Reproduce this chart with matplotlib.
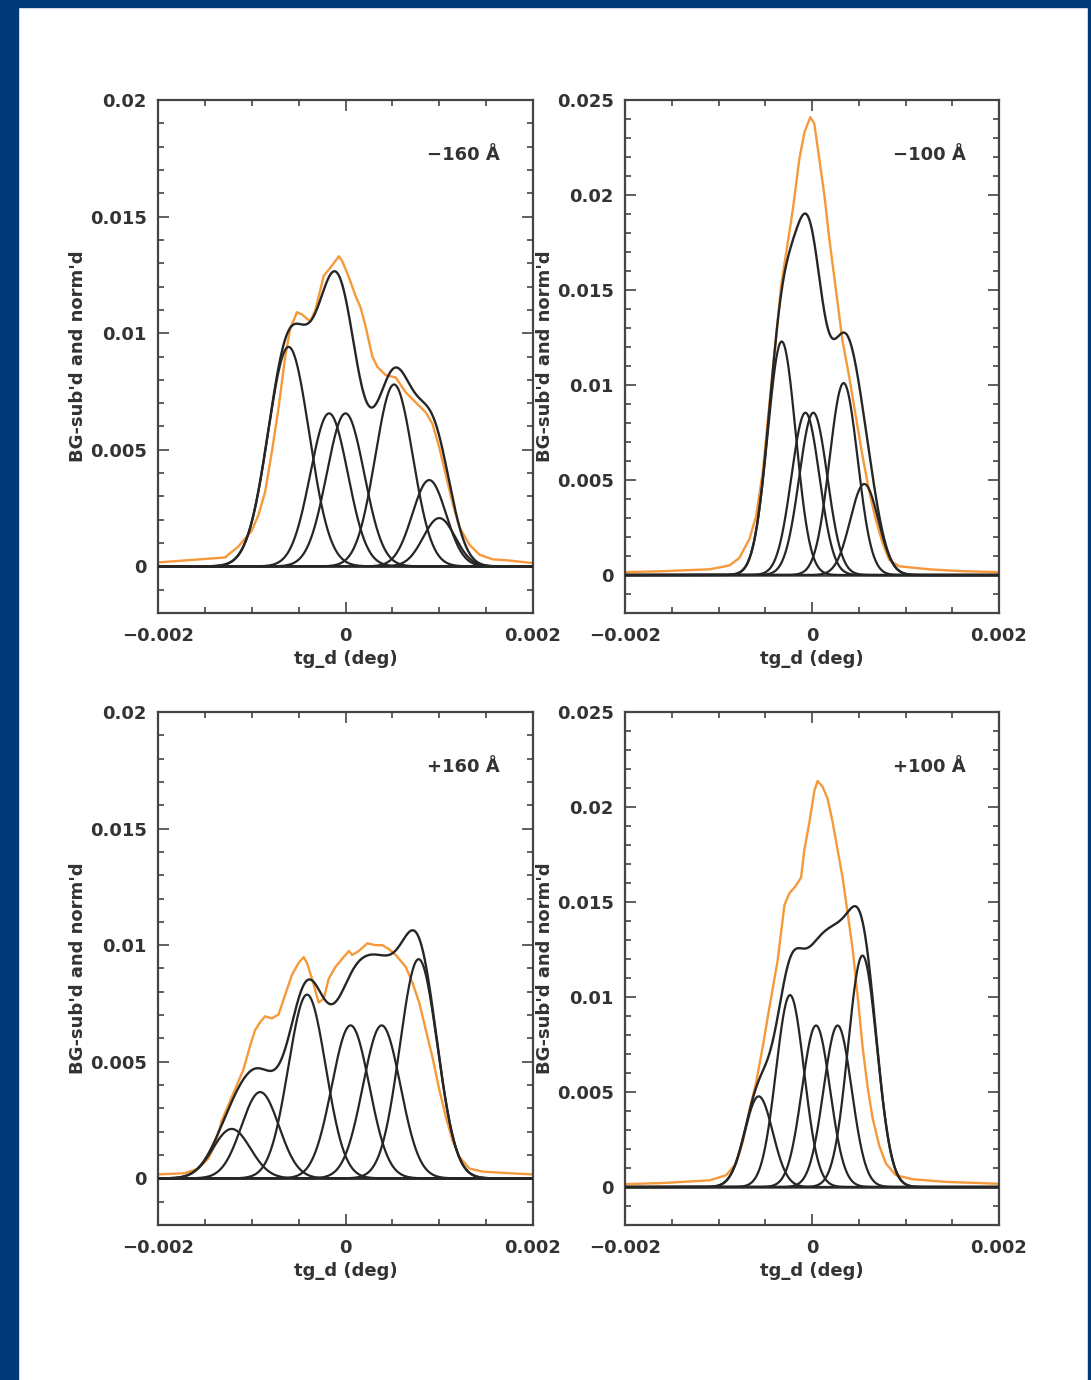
import numpy as np
import matplotlib
matplotlib.use("Agg")
import matplotlib.pyplot as plt
from matplotlib.ticker import FixedLocator, MultipleLocator
from matplotlib.patches import Rectangle

# ---- observed profiles (x in 1e-3 deg, y in 1e-3) -------------------------
obs_m160_x = [-2.0, -1.286, -1.143, -1.0, -0.929, -0.857, -0.786, -0.714, -0.643, -0.589,
              -0.518, -0.464, -0.375, -0.321, -0.232, -0.143, -0.071, -0.036, 0.036, 0.107,
              0.161, 0.214, 0.286, 0.339, 0.429, 0.536, 0.643, 0.75, 0.857, 0.929,
              1.0, 1.071, 1.143, 1.214, 1.321, 1.429, 1.571, 1.75, 2.0]
obs_m160_y = [0.17, 0.38, 0.85, 1.53, 2.2, 3.2, 4.9, 6.8, 9.0, 10.2,
              10.9, 10.8, 10.5, 11.0, 12.46, 12.9, 13.3, 13.1, 12.4, 11.6,
              11.1, 10.3, 9.0, 8.56, 8.2, 8.1, 7.46, 7.03, 6.6, 6.1,
              5.1, 3.9, 2.7, 1.7, 0.93, 0.5, 0.3, 0.25, 0.14]

obs_m100_x = [-2.0, -1.594, -1.096, -0.883, -0.776, -0.669, -0.598, -0.527, -0.456, -0.384,
              -0.331, -0.278, -0.206, -0.135, -0.081, -0.018, 0.025, 0.078, 0.132, 0.185,
              0.256, 0.327, 0.399, 0.470, 0.541, 0.612, 0.683, 0.754, 0.826, 0.932,
              1.253, 1.609, 2.0]
obs_m100_y = [0.15, 0.2, 0.3, 0.5, 0.9, 1.9, 3.1, 5.4, 9.0, 12.5,
              15.2, 16.9, 19.2, 21.9, 23.3, 24.1, 23.75, 21.9, 20.0, 17.7,
              15.0, 12.3, 10.4, 8.3, 6.25, 4.4, 2.9, 1.7, 0.8, 0.46,
              0.3, 0.2, 0.15]

obs_p160_x = [-2.0, -1.714, -1.571, -1.464, -1.393, -1.321, -1.25, -1.179, -1.089, -1.018,
              -0.964, -0.911, -0.857, -0.786, -0.714, -0.643, -0.571, -0.5, -0.446, -0.411,
              -0.357, -0.286, -0.232, -0.179, -0.107, -0.036, 0.036, 0.071, 0.143, 0.232,
              0.321, 0.393, 0.464, 0.536, 0.643, 0.714, 0.786, 0.857, 0.929, 1.0,
              1.071, 1.143, 1.214, 1.321, 1.464, 1.75, 2.0]
obs_p160_y = [0.17, 0.22, 0.42, 0.85, 1.44, 2.46, 3.14, 3.81, 4.66, 5.68,
              6.36, 6.69, 6.95, 6.86, 7.03, 7.88, 8.73, 9.24, 9.49, 9.24,
              8.56, 7.54, 7.71, 8.56, 9.07, 9.41, 9.75, 9.58, 9.75, 10.08,
              10.0, 10.0, 9.83, 9.58, 9.07, 8.39, 7.54, 6.36, 5.17, 3.81,
              2.63, 1.61, 0.93, 0.42, 0.29, 0.22, 0.17]

obs_p100_x = [-2.0, -1.594, -1.096, -0.918, -0.811, -0.740, -0.669, -0.598, -0.527, -0.456,
              -0.367, -0.295, -0.242, -0.206, -0.171, -0.117, -0.082, -0.028, 0.025, 0.060,
              0.114, 0.167, 0.221, 0.274, 0.327, 0.381, 0.434, 0.488, 0.541, 0.594,
              0.648, 0.719, 0.790, 0.897, 1.075, 1.431, 2.0]
obs_p100_y = [0.15, 0.21, 0.35, 0.62, 1.24, 2.39, 4.05, 5.50, 7.37, 9.44,
              11.93, 14.83, 15.46, 15.66, 15.87, 16.29, 17.74, 19.19, 20.85, 21.37,
              21.06, 20.44, 19.19, 17.74, 16.29, 14.42, 12.55, 10.06, 7.37, 5.29,
              3.63, 2.18, 1.24, 0.62, 0.41, 0.27, 0.17]

# ---- fitted Gaussian components (centre, amplitude, sigma; 1e-3 units) ----
fit_m160_center = [-0.607, -0.175, 0.0, 0.518, 0.893, 1.0]
fit_m160_amp = [9.41, 6.56, 6.56, 7.8, 3.7, 2.07]
fit_m160_sigma = [0.22, 0.2, 0.2, 0.2, 0.18, 0.17]

fit_m100_center = [-0.324, -0.07, 0.014, 0.338, 0.559]
fit_m100_amp = [12.29, 8.54, 8.54, 10.1, 4.79]
fit_m100_sigma = [0.15, 0.15, 0.15, 0.15, 0.15]

fit_p160_center = [-1.214, -0.91, -0.41, 0.054, 0.386, 0.78]
fit_p160_amp = [2.12, 3.7, 7.88, 6.56, 6.56, 9.4]
fit_p160_sigma = [0.2, 0.2, 0.2, 0.2, 0.2, 0.2]

fit_p100_center = [-0.57, -0.235, 0.043, 0.274, 0.54]
fit_p100_amp = [4.77, 10.1, 8.5, 8.5, 12.18]
fit_p100_sigma = [0.15, 0.15, 0.15, 0.15, 0.155]

panel_labels = ["\u2212160 \u00c5", "\u2212100 \u00c5", "+160 \u00c5", "+100 \u00c5"]
ytick_vals_02 = [0, 0.005, 0.01, 0.015, 0.02]
ytick_lbls_02 = ["0", "0.005", "0.01", "0.015", "0.02"]
ytick_vals_025 = [0, 0.005, 0.01, 0.015, 0.02, 0.025]
ytick_lbls_025 = ["0", "0.005", "0.01", "0.015", "0.02", "0.025"]
xtick_vals = [-0.002, 0, 0.002]
xtick_lbls = ["\u22120.002", "0", "0.002"]

ORANGE = "#f5993a"
INK = "#262626"
TXT = "#333333"
BLUE = "#013a79"

W, H = 1091, 1380
fig = plt.figure(figsize=(W / 100, H / 100), dpi=100)
fig.patch.set_facecolor("white")

# frame around the page
for (x0, y0, w, h) in [(0, 0, 18, H), (0, 0, W, 7), (1088, 0, 3, H)]:
    fig.patches.append(Rectangle((x0 / W, 1 - (y0 + h) / H), w / W, h / H,
                                 transform=fig.transFigure, color=BLUE, zorder=0))


def px_box(left, top, right, bottom):
    return [left / W, 1 - bottom / H, (right - left) / W, (bottom - top) / H]


boxes = [px_box(158, 100, 533, 613), px_box(625, 100, 999, 613),
         px_box(158, 712, 533, 1225), px_box(625, 712, 999, 1225)]

panels = [
    (obs_m160_x, obs_m160_y, fit_m160_center, fit_m160_amp, fit_m160_sigma, 0.02),
    (obs_m100_x, obs_m100_y, fit_m100_center, fit_m100_amp, fit_m100_sigma, 0.025),
    (obs_p160_x, obs_p160_y, fit_p160_center, fit_p160_amp, fit_p160_sigma, 0.02),
    (obs_p100_x, obs_p100_y, fit_p100_center, fit_p100_amp, fit_p100_sigma, 0.025),
]

xgrid = np.linspace(-2.0, 2.0, 1200) * 1e-3

for box, (ox, oy, cen, amp, sig, ytop), label in zip(boxes, panels, panel_labels):
    ax = fig.add_axes(box)
    ax.plot(np.array(ox) * 1e-3, np.array(oy) * 1e-3, color=ORANGE, lw=1.7, zorder=2)
    ax.axhline(0, color="#444444", lw=1.8, zorder=1)
    total = np.zeros_like(xgrid)
    for c, a, s in zip(cen, amp, sig):
        comp = a * 1e-3 * np.exp(-0.5 * ((xgrid - c * 1e-3) / (s * 1e-3)) ** 2)
        total += comp
        ax.plot(xgrid, comp, color=INK, lw=1.6, zorder=3)
    ax.plot(xgrid, total, color=INK, lw=1.7, zorder=3)

    ax.set_xlim(-0.002, 0.002)
    ax.set_ylim(-0.002, ytop)
    ax.xaxis.set_major_locator(FixedLocator(xtick_vals))
    ax.set_xticklabels(xtick_lbls)
    ax.xaxis.set_minor_locator(MultipleLocator(0.0005))
    if ytop == 0.02:
        ax.yaxis.set_major_locator(FixedLocator(ytick_vals_02))
        ax.set_yticklabels(ytick_lbls_02)
    else:
        ax.yaxis.set_major_locator(FixedLocator(ytick_vals_025))
        ax.set_yticklabels(ytick_lbls_025)
    ax.yaxis.set_minor_locator(MultipleLocator(0.001))
    ax.tick_params(which="both", direction="in", top=True, right=True,
                   color="#444444", width=1.2)
    ax.tick_params(which="major", length=8, labelsize=13, labelcolor=TXT)
    ax.tick_params(axis="x", which="major", pad=10)
    ax.tick_params(axis="y", which="major", pad=8)
    ax.tick_params(which="minor", length=4)
    for lab in ax.get_xticklabels() + ax.get_yticklabels():
        lab.set_fontweight("bold")
    for sp in ax.spines.values():
        sp.set_color("#444444")
        sp.set_linewidth(1.6)
    ax.set_xlabel("tg_d (deg)", fontsize=13, fontweight="bold", color=TXT, labelpad=4)
    ax.set_ylabel("BG-sub'd and norm'd", fontsize=13, fontweight="bold", color=TXT)
    ax.yaxis.set_label_coords(-0.19, 0.5)
    ax.text(0.912, 0.893, label, transform=ax.transAxes, ha="right", va="center",
            fontsize=13, fontweight="bold", color=TXT)

fig.savefig("out.png", dpi=100, facecolor="white")
